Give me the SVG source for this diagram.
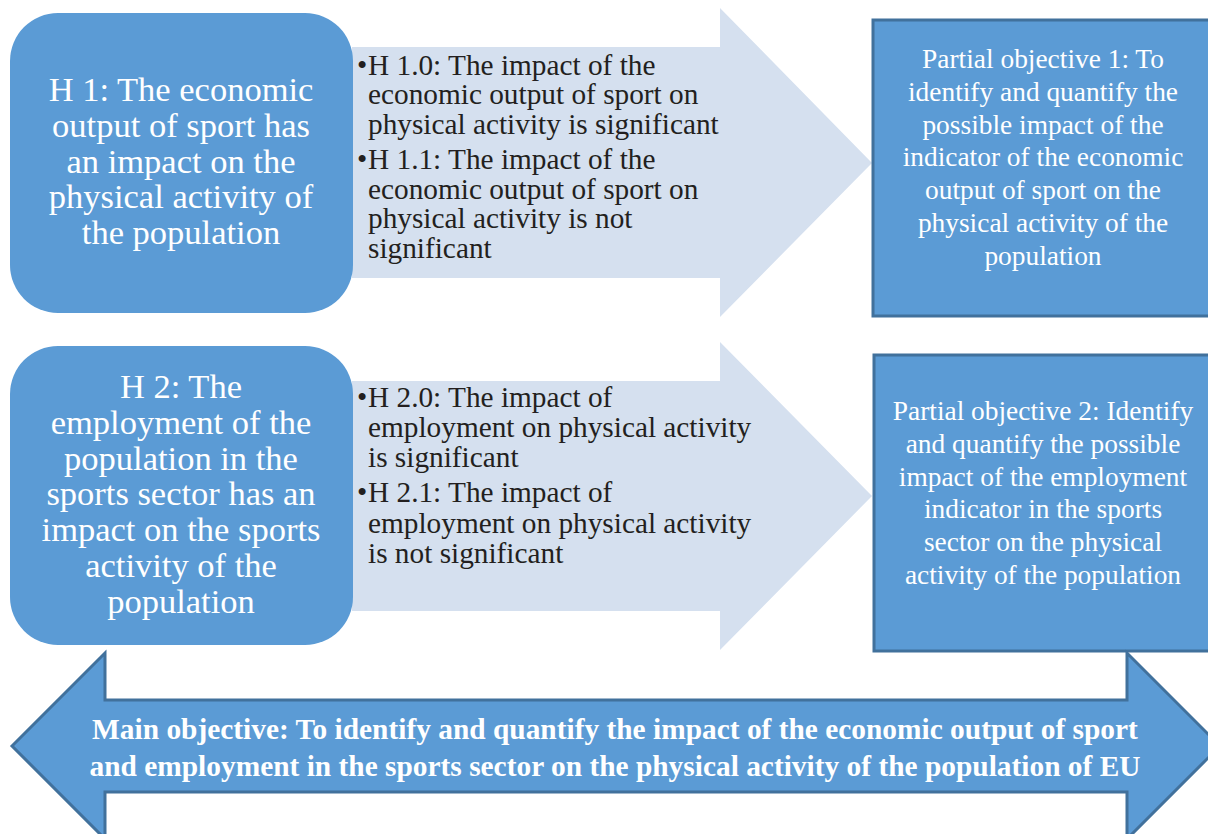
<svg xmlns="http://www.w3.org/2000/svg" width="1208" height="834" viewBox="0 0 1208 834">
<style>
.hyp{fill:#5b9bd5;}
.arr{fill:#d5e0ef;}
.obj{fill:#5b9bd5;stroke:#41719c;stroke-width:3;}
.wt{font-family:"Liberation Serif","Times New Roman",serif;fill:#ffffff;text-anchor:middle;}
.big{font-size:34.5px;}
.mid{font-size:27.4px;}
.dt{font-family:"Liberation Serif","Times New Roman",serif;fill:#231f20;font-size:29.3px;}
.bold{font-family:"Liberation Serif","Times New Roman",serif;fill:#ffffff;font-size:29.4px;font-weight:bold;text-anchor:middle;}
</style>
<rect width="1208" height="834" fill="#ffffff"/>
<g id="connectors">
  <polygon id="arrow1" class="arr" points="352,47 720,47 720,8 872,163 720,317 720,278 352,278"/>
  <polygon id="arrow2" class="arr" points="352,381 720,381 720,342 872,496 720,650 720,611 352,611"/>
</g>
<g id="h1">
  <rect class="hyp" x="10" y="13" width="343" height="300" rx="48" ry="48"/>
  <text class="wt big"><tspan x="181" y="101">H 1: The economic</tspan><tspan x="181" y="137">output of sport has</tspan><tspan x="181" y="173">an impact on the</tspan><tspan x="181" y="208">physical activity of</tspan><tspan x="181" y="244">the population</tspan></text>
</g>
<g id="h1-sub">
  <text class="dt"><tspan x="357" y="75">•</tspan><tspan x="368" y="75">H 1.0: The impact of the</tspan><tspan x="368" y="104">economic output of sport on</tspan><tspan x="368" y="134">physical activity is significant</tspan><tspan x="357" y="169">•</tspan><tspan x="368" y="169">H 1.1: The impact of the</tspan><tspan x="368" y="199">economic output of sport on</tspan><tspan x="368" y="228">physical activity is not</tspan><tspan x="368" y="258">significant</tspan></text>
</g>
<g id="obj1">
  <rect class="obj" x="873" y="20" width="345" height="296"/>
  <text class="wt mid"><tspan x="1043" y="68">Partial objective 1: To</tspan><tspan x="1043" y="101">identify and quantify the</tspan><tspan x="1043" y="134">possible impact of the</tspan><tspan x="1043" y="166">indicator of the economic</tspan><tspan x="1043" y="199">output of sport on the</tspan><tspan x="1043" y="232">physical activity of the</tspan><tspan x="1043" y="265">population</tspan></text>
</g>
<g id="h2">
  <rect class="hyp" x="10" y="346" width="343" height="299" rx="48" ry="48"/>
  <text class="wt big"><tspan x="181" y="398">H 2: The</tspan><tspan x="181" y="434">employment of the</tspan><tspan x="181" y="470">population in the</tspan><tspan x="181" y="505">sports sector has an</tspan><tspan x="181" y="541">impact on the sports</tspan><tspan x="181" y="577">activity of the</tspan><tspan x="181" y="613">population</tspan></text>
</g>
<g id="h2-sub">
  <text class="dt"><tspan x="357" y="407">•</tspan><tspan x="368" y="407">H 2.0: The impact of</tspan><tspan x="368" y="437">employment on physical activity</tspan><tspan x="368" y="467">is significant</tspan><tspan x="357" y="502">•</tspan><tspan x="368" y="502">H 2.1: The impact of</tspan><tspan x="368" y="533">employment on physical activity</tspan><tspan x="368" y="563">is not significant</tspan></text>
</g>
<g id="obj2">
  <rect class="obj" x="874" y="355" width="345" height="296"/>
  <text class="wt mid"><tspan x="1043" y="420">Partial objective 2: Identify</tspan><tspan x="1043" y="453">and quantify the possible</tspan><tspan x="1043" y="486">impact of the employment</tspan><tspan x="1043" y="518">indicator in the sports</tspan><tspan x="1043" y="551">sector on the physical</tspan><tspan x="1043" y="584">activity of the population</tspan></text>
</g>
<g id="main">
  <polygon class="obj" points="12,746 105,653 105,700 1127,700 1127,653 1220,746 1127,839 1127,792 105,792 105,839"/>
  <text class="bold"><tspan x="615" y="739">Main objective: To identify and quantify the impact of the economic output of sport</tspan><tspan x="615" y="776">and employment in the sports sector on the physical activity of the population of EU</tspan></text>
</g>
</svg>
